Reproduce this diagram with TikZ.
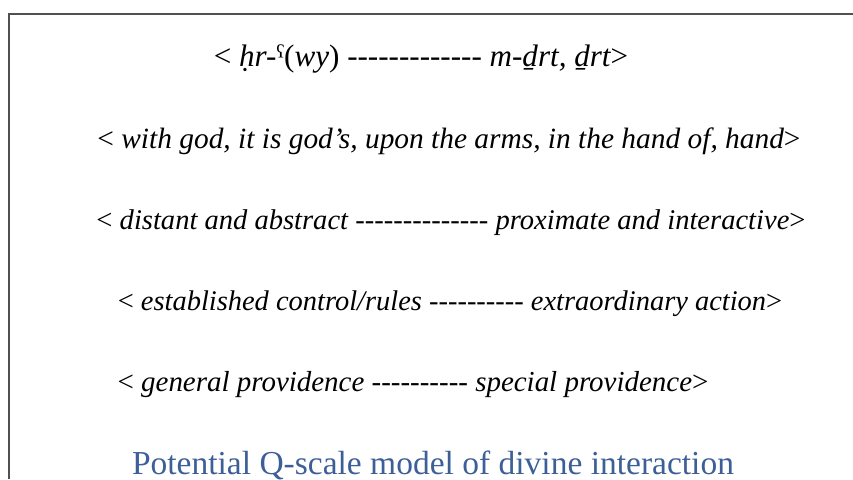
\documentclass[tikz,border=0pt]{standalone}
\usepackage{fontspec}
\setmainfont{Liberation Serif}[Ligatures=TeXOff]
\definecolor{frame}{HTML}{505050}
\definecolor{titleblue}{HTML}{3D5F97}
\tikzset{
  scaleline/.style={font=\itshape\fontsize{#1}{34}\selectfont, anchor=base, inner sep=0pt},
  titletext/.style={font=\fontsize{33.5}{38}\selectfont, text=titleblue, anchor=base, inner sep=0pt}
}
\begin{document}
\begin{tikzpicture}[x=1pt,y=-1pt]
\useasboundingbox (0,0) rectangle (853,479);
\draw[frame, line width=2pt] (8.5,479) -- (8.5,14) -- (853,14);
\node[scaleline=31.1] (l1) at (421,66) {\upshape< \itshape ḥr-\upshape ˤ(\itshape wy\upshape) \itshape ------------- m-ḏrt, ḏrt\upshape>};
\node[scaleline=29.4] (l2) at (449,148) {\upshape< \itshape with god, it is god’s, upon the arms, in the hand of, hand\upshape>};
\node[scaleline=28.55] (l3) at (451,229) {\upshape< \itshape distant and abstract -------------- proximate and interactive\upshape>};
\node[scaleline=28.45] (l4) at (450,310) {\upshape< \itshape established control/rules ---------- extraordinary action\upshape>};
\node[scaleline=28.95] (l5) at (413,391) {\upshape< \itshape general providence ---------- special providence\upshape>};
\node[titletext] (t) at (433,474) {Potential Q-scale model of divine interaction};
\end{tikzpicture}
\end{document}
